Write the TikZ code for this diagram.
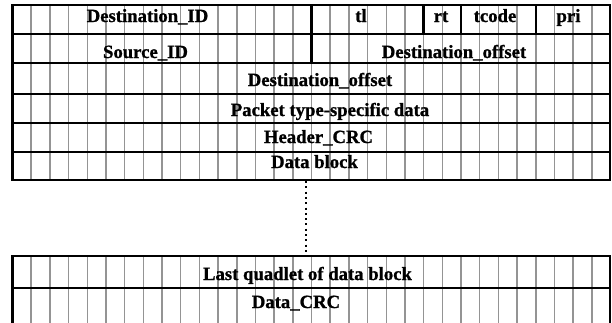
\documentclass[tikz,border=0pt]{standalone}
\usepackage{fontspec}
\setmainfont{Liberation Serif}[BoldFeatures={FakeBold=1}]
\begin{document}
\begin{tikzpicture}[x=1pt,y=-1pt,
  gridline/.style={draw=black!42,line width=1.5pt},
  frame/.style={draw=black,line width=2.5pt},
  lbl/.style={inner sep=0pt,anchor=base,font=\fontsize{18.7}{20}\selectfont\bfseries},
  dots/.style={draw=black,line width=2pt,dash pattern=on 2pt off 3.3pt}]
\useasboundingbox (0,0) rectangle (612,322);
\def\L{12.5}\def\R{610}\def\cw{18.6875}
% grid lines
\foreach \i in {1,...,31}{
  \draw[gridline] ({\L+\i*\cw},5) -- ({\L+\i*\cw},180);
  \draw[gridline] ({\L+\i*\cw},256) -- ({\L+\i*\cw},330);
}
% top block frame
\draw[frame] (\L,5) rectangle (\R,180);
\foreach \y in {34,63,94,123,152} \draw[frame] (\L,\y) -- (\R,\y);
\foreach \c in {16,22,24,28} \draw[frame] ({\L+\c*\cw},5) -- ({\L+\c*\cw},34);
\draw[frame] ({\L+16*\cw},34) -- ({\L+16*\cw},63);
% bottom block frame
\draw[frame] (\L,330) -- (\L,256) -- (\R,256) -- (\R,330);
\draw[frame] (\L,288) -- (\R,288);
% dotted continuation
\coordinate (dtop) at (306,181);
\coordinate (dbot) at (306,255);
\draw[dots] (dtop) -- (dbot);
% labels
\node[lbl] (did) at (147.5,22) {Destination\_ID};
\node[lbl] (tl) at (361,22) {tl};
\node[lbl] (rt) at (441,22) {rt};
\node[lbl] (tcode) at (495,22) {tcode};
\node[lbl] (pri) at (568.5,22) {pri};
\node[lbl] (sid) at (145.5,58) {Source\_ID};
\node[lbl] (doff1) at (454,58) {Destination\_offset};
\node[lbl] (doff2) at (320,86) {Destination\_offset};
\node[lbl] (ptsd) at (330,116) {Packet type-specific data};
\node[lbl] (hcrc) at (318.5,143) {Header\_CRC};
\node[lbl] (dblk) at (314.5,168) {Data block};
\node[lbl] (lqdb) at (307.5,280) {Last quadlet of data block};
\node[lbl] (dcrc) at (296,308) {Data\_CRC};
\end{tikzpicture}
\end{document}
